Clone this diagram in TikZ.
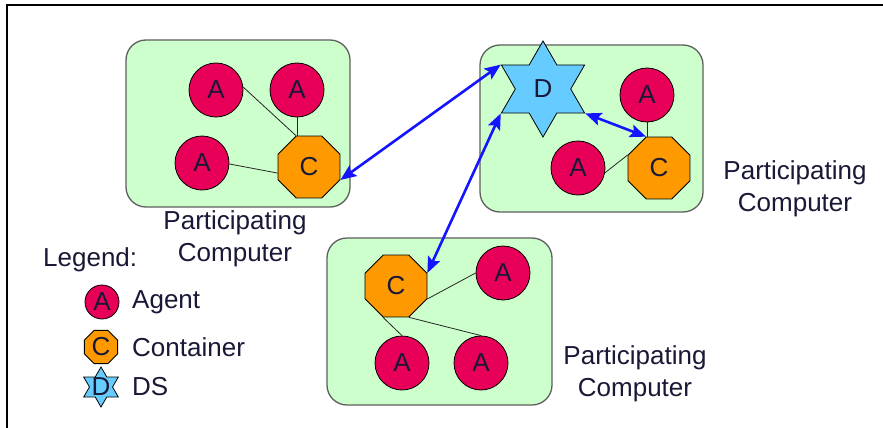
\documentclass[tikz,border=0pt]{standalone}
\usepackage{fontspec}
\setmainfont{Liberation Sans}
\usetikzlibrary{shapes.geometric,arrows.meta}
\definecolor{pcgreen}{RGB}{204,255,204}
\definecolor{pcedge}{RGB}{95,95,95}
\definecolor{agentred}{RGB}{232,0,88}
\definecolor{contorange}{RGB}{255,153,0}
\definecolor{dsblue}{RGB}{102,204,255}
\definecolor{linkblue}{RGB}{20,20,255}
\definecolor{inkblue}{RGB}{25,25,55}
\begin{document}
\begin{tikzpicture}[x=1pt,y=-1pt,
  every node/.style={font=\fontsize{26}{32}\selectfont, text=inkblue},
  pcbox/.style={draw=pcedge, line width=1.3pt, fill=pcgreen, rounded corners=20pt,
    minimum width=#1, minimum height=167pt, inner sep=0pt},
  agent/.style={circle, draw=black, line width=0.8pt, fill=agentred,
    minimum size=54pt, inner sep=0pt},
  container/.style={regular polygon, regular polygon sides=8, draw=black,
    line width=0.8pt, fill=contorange, minimum size=67pt, inner sep=0pt},
  dsstar/.style={star, star points=6, star point ratio=1.732, draw=black,
    line width=0.8pt, fill=dsblue, minimum size=96pt, inner sep=0pt},
  tie/.style={draw=black!85, line width=0.8pt},
  link/.style={draw=linkblue, line width=2.6pt,
    {Stealth[length=16pt,width=13pt,inset=3pt]}-{Stealth[length=16pt,width=13pt,inset=3pt]}},
  caption/.style={align=center},
  keytext/.style={anchor=west, inner sep=0pt},
]
\useasboundingbox (0,0) rectangle (883,428);
\fill[white] (0,0) rectangle (883,428);
% frame
\draw[line width=2pt] (7,428) -- (7,5) -- (883,5);

% participating computers
\node[pcbox=224pt] (pc1) at (238,123.5) {};
\node[pcbox=223pt] (pc2) at (591.5,128.5) {};
\node[pcbox=225pt] (pc3) at (439.5,321.5) {};

\node[caption] (cap1) at (235,239) {Participating\\Computer};
\node[caption] (cap2) at (795,188.5) {Participating\\Computer};
\node[caption] (cap3) at (635,374) {Participating\\Computer};

% computer 1
\node[agent] (a11) at (216,90) {A};
\node[agent] (a12) at (297,90) {A};
\node[agent] (a13) at (202,163) {A};
\node[container] (c1) at (309,167) {C};

% computer 2
\node[dsstar] (ds) at (543,89) {D};
\node[agent] (a21) at (647,95) {A};
\node[agent] (a22) at (578,168) {A};
\node[container] (c2) at (659,168) {C};

% computer 3
\node[container] (c3) at (396,286) {C};
\node[agent] (a31) at (503,273) {A};
\node[agent] (a32) at (402,363) {A};
\node[agent] (a33) at (481,363) {A};

% agent-container ties
\draw[tie] (a11.6) -- (c1.corner 2);
\draw[tie] (a12.south) -- (a12.south |- c1.corner 1);
\draw[tie] (a13.-2) -- (c1.191);
\draw[tie] (a21.south) -- (a21.south |- c2.corner 1);
\draw[tie] (a22.-10) -- (c2.corner 3);
\draw[tie] (c3.corner 7) -- (a31.west);
\draw[tie] (c3.corner 5) -- (a32.north);
\draw[tie] (c3.corner 6) -- (a33.north);

% links to the DS
\draw[link] (c1.corner 7) -- (ds.outer point 2);
\draw[link] (c3.corner 8) -- (ds.outer point 3);
\draw[link] (ds.outer point 5) -- (c2.corner 2);

% legend
\node[keytext] (legend) at (43,260) {Legend:};
\node[agent, minimum size=34pt] (keya) at (102,302) {};
\node (keyat) at (keya) {A};
\node[keytext] (keyal) at (132,302) {Agent};
\node[container, minimum size=36pt] (keyc) at (101,347) {};
\node (keyct) at (keyc) {C};
\node[keytext] (keycl) at (132,347) {Container};
\node[dsstar, minimum size=40pt] (keyd) at (101,387) {};
\node (keydt) at (keyd) {D};
\node[keytext] (keydl) at (132,387) {DS};
\end{tikzpicture}
\end{document}
